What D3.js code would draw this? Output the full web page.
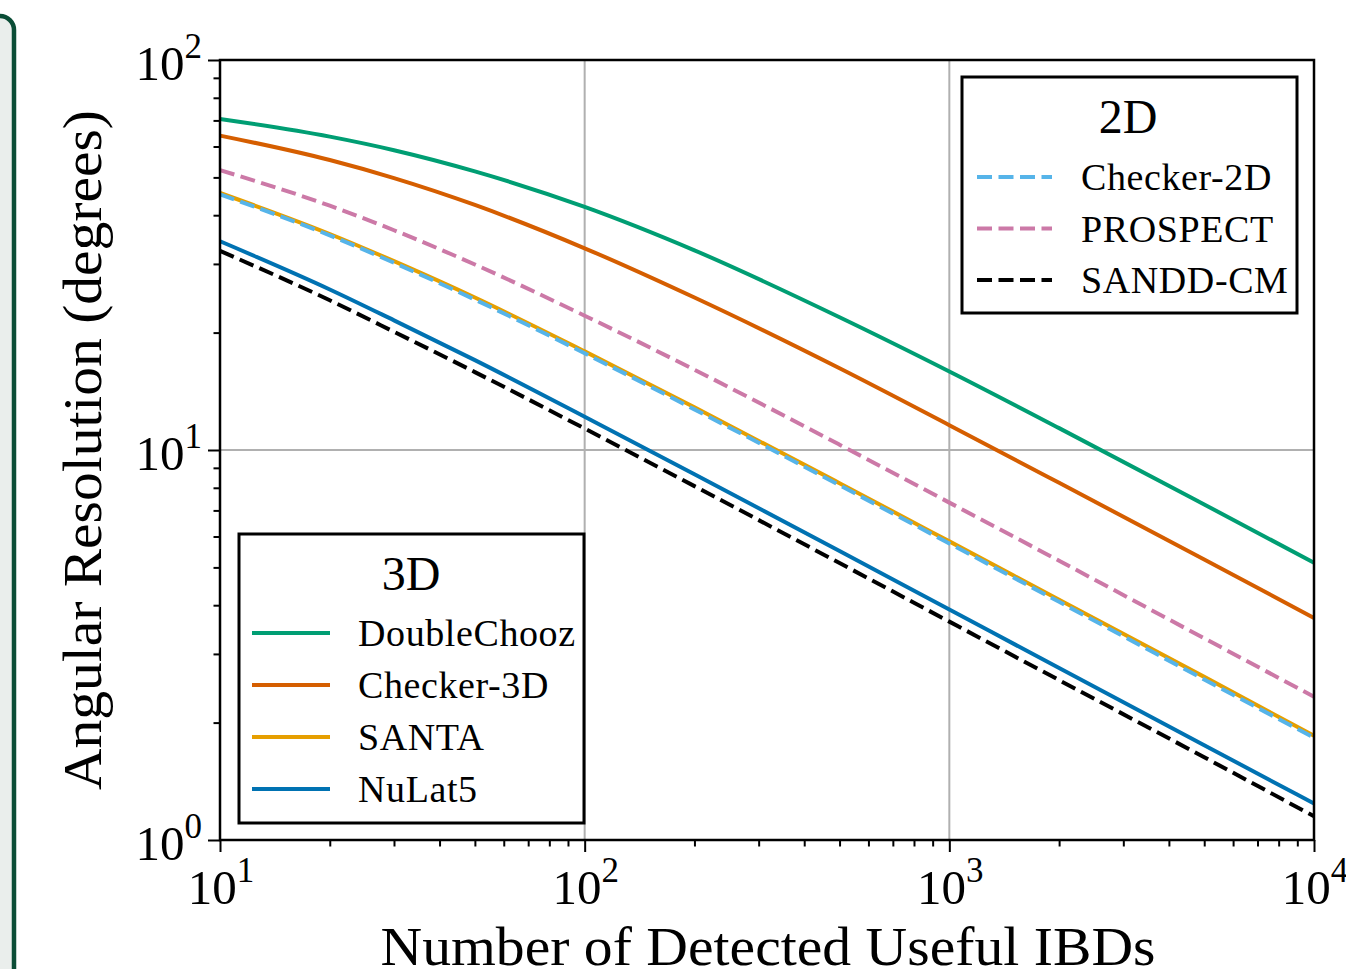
<!DOCTYPE html>
<html>
<head>
<meta charset="utf-8">
<script src="https://cdn.jsdelivr.net/npm/d3@7"></script>
<style>
  body { margin: 0; background: #fff; }
  svg text { font-family: "Liberation Serif", "DejaVu Serif", serif; fill: #000; }
</style>
</head>
<body>
<div id="chart"></div>
<script>
// Data
var counts = [10, 20, 30, 50, 100, 200, 500, 1000, 2000, 5000, 10000];

var doubleChooz = [70.6, 63.6, 58.7, 51.8, 42.0, 32.5, 21.9, 15.9, 11.38, 7.25, 5.14];
var checker3D   = [64.0, 55.4, 49.8, 42.5, 32.9, 24.6, 16.2, 11.58, 8.24, 5.24, 3.71];
var santa       = [45.6, 35.8, 30.5, 24.6, 17.9, 12.87, 8.22, 5.83, 4.13, 2.62, 1.85];
var nuLat5      = [34.3, 25.8, 21.5, 17.0, 12.17, 8.67, 5.51, 3.90, 2.76, 1.75, 1.24];

var checker2D   = [45.25, 35.5, 30.2, 24.3, 17.7, 12.71, 8.12, 5.76, 4.08, 2.58, 1.83];
var prospect    = [52.2, 42.3, 36.6, 29.9, 22.1, 16.06, 10.32, 7.33, 5.20, 3.29, 2.33];
var sanddCM     = [32.4, 24.2, 20.1, 15.84, 11.35, 8.08, 5.13, 3.63, 2.57, 1.63, 1.15];

var names3D = ["DoubleChooz", "Checker-3D", "SANTA", "NuLat5"];
var names2D = ["Checker-2D", "PROSPECT", "SANDD-CM"];
var xTickExp = [1, 2, 3, 4];
var yTickExp = [0, 1, 2];

var colors = {
  "DoubleChooz": "#009e73",
  "Checker-3D": "#d55e00",
  "SANTA": "#e69f00",
  "NuLat5": "#0072b2",
  "Checker-2D": "#56b4e9",
  "PROSPECT": "#cc79a7",
  "SANDD-CM": "#000000"
};

var series3D = [doubleChooz, checker3D, santa, nuLat5];
var series2D = [checker2D, prospect, sanddCM];

// layout
var W = 1346, H = 969;
var margin = {left: 220, top: 60, right: 32, bottom: 129};
var width = W - margin.left - margin.right,
    height = H - margin.top - margin.bottom;
var lineW = 4;
var dash = "15,6.5";

var svg = d3.select("#chart").append("svg")
  .attr("width", W)
  .attr("height", H);

// side panel peeking in at the left edge
svg.append("rect")
  .attr("x", -40).attr("y", 16)
  .attr("width", 54).attr("height", 1000)
  .attr("rx", 14)
  .attr("fill", "#eaeeec")
  .attr("stroke", "#0b4d36")
  .attr("stroke-width", 4.5);

var x = d3.scaleLog().domain([10, 10000]).range([0, width]);
var y = d3.scaleLog().domain([1, 100]).range([height, 0]);

var g = svg.append("g")
  .attr("transform", "translate(" + margin.left + "," + margin.top + ")");

// grid (major only)
g.append("g").selectAll("line")
  .data(xTickExp.map(function(e) { return Math.pow(10, e); }))
  .enter().append("line")
  .attr("x1", function(d) { return x(d); })
  .attr("x2", function(d) { return x(d); })
  .attr("y1", 0).attr("y2", height)
  .attr("stroke", "#b0b0b0").attr("stroke-width", 2);
g.append("g").selectAll("line")
  .data(yTickExp.map(function(e) { return Math.pow(10, e); }))
  .enter().append("line")
  .attr("y1", function(d) { return y(d); })
  .attr("y2", function(d) { return y(d); })
  .attr("x1", 0).attr("x2", width)
  .attr("stroke", "#b0b0b0").attr("stroke-width", 2);

// curves
var line = d3.line()
  .x(function(d) { return x(d[0]); })
  .y(function(d) { return y(d[1]); })
  .curve(d3.curveMonotoneX);

function pairs(vals) {
  return counts.map(function(c, i) { return [c, vals[i]]; });
}

var plot = g.append("g");
series3D.forEach(function(s, i) {
  plot.append("path")
    .attr("d", line(pairs(s)))
    .attr("fill", "none")
    .attr("stroke", colors[names3D[i]])
    .attr("stroke-width", lineW);
});
series2D.forEach(function(s, i) {
  plot.append("path")
    .attr("d", line(pairs(s)))
    .attr("fill", "none")
    .attr("stroke", colors[names2D[i]])
    .attr("stroke-width", lineW)
    .attr("stroke-dasharray", dash);
});

// axes with ticks
var xAxis = d3.axisBottom(x)
  .tickValues(d3.range(1, 4).flatMap(function(e) {
    return d3.range(1, 10).map(function(m) { return m * Math.pow(10, e); });
  }).concat([10000]))
  .tickFormat("")
  .tickSizeOuter(0);
var yAxis = d3.axisLeft(y)
  .tickValues(d3.range(0, 2).flatMap(function(e) {
    return d3.range(1, 10).map(function(m) { return m * Math.pow(10, e); });
  }).concat([100]))
  .tickFormat("")
  .tickSizeOuter(0);

var gx = g.append("g").attr("transform", "translate(0," + height + ")").call(xAxis);
var gy = g.append("g").call(yAxis);

function isMajor(v) {
  var l = Math.log10(v);
  return Math.abs(l - Math.round(l)) < 1e-9;
}
[gx, gy].forEach(function(ax) {
  ax.select(".domain").remove();
  ax.selectAll(".tick line")
    .attr("stroke", "#000")
    .attr("stroke-width", 2)
    .each(function(d) {
      var len = isMajor(d) ? 12 : 6.5;
      var sel = d3.select(this);
      if (ax === gx) sel.attr("y2", len); else sel.attr("x2", -len);
    });
});

// spines
g.append("rect")
  .attr("x", 0).attr("y", 0)
  .attr("width", width).attr("height", height)
  .attr("fill", "none")
  .attr("stroke", "#000")
  .attr("stroke-width", 2.5);

// tick labels 10^n
function powLabel(sel, e) {
  sel.append("tspan").text("10");
  sel.append("tspan").text(e)
    .attr("dy", -22)
    .attr("font-size", 35);
}
xTickExp.forEach(function(e) {
  var t = g.append("text")
    .attr("x", x(Math.pow(10, e)) + 1)
    .attr("y", height + 64)
    .attr("text-anchor", "middle")
    .attr("font-size", 49);
  powLabel(t, e);
});
yTickExp.forEach(function(e) {
  var t = g.append("text")
    .attr("x", -18)
    .attr("y", y(Math.pow(10, e)) + 20)
    .attr("text-anchor", "end")
    .attr("font-size", 49);
  powLabel(t, e);
});

// axis titles
svg.append("text")
  .attr("x", 768)
  .attr("y", 965)
  .attr("text-anchor", "middle")
  .attr("font-size", 54)
  .attr("textLength", 775)
  .attr("lengthAdjust", "spacingAndGlyphs")
  .text("Number of Detected Useful IBDs");

svg.append("text")
  .attr("transform", "translate(101,450) rotate(-90)")
  .attr("text-anchor", "middle")
  .attr("font-size", 54)
  .attr("textLength", 680)
  .attr("lengthAdjust", "spacingAndGlyphs")
  .text("Angular Resolution (degrees)");

// legends
function legend(box, title, titleX, titleY, names, lineX, rowY, step, dashed, textX) {
  var lg = svg.append("g");
  lg.append("rect")
    .attr("x", box[0]).attr("y", box[1])
    .attr("width", box[2]).attr("height", box[3])
    .attr("fill", "#fff")
    .attr("stroke", "#000")
    .attr("stroke-width", 3);
  lg.append("text")
    .attr("x", titleX).attr("y", titleY)
    .attr("text-anchor", "middle")
    .attr("font-size", 48)
    .text(title);
  names.forEach(function(n, i) {
    var yy = rowY + i * step;
    lg.append("line")
      .attr("x1", lineX[0]).attr("x2", lineX[1])
      .attr("y1", yy).attr("y2", yy)
      .attr("stroke", colors[n])
      .attr("stroke-width", lineW)
      .attr("stroke-dasharray", dashed ? dash : null);
    lg.append("text")
      .attr("x", textX).attr("y", yy + 13)
      .attr("font-size", 38)
      .attr("letter-spacing", 0.6)
      .text(n);
  });
}

legend([239, 534, 345, 289], "3D", 411, 590, names3D, [252, 330], 633, 52, false, 358);
legend([962, 77, 335, 236], "2D", 1128, 133, names2D, [977, 1052], 177, 51.5, true, 1081);
</script>
</body>
</html>
